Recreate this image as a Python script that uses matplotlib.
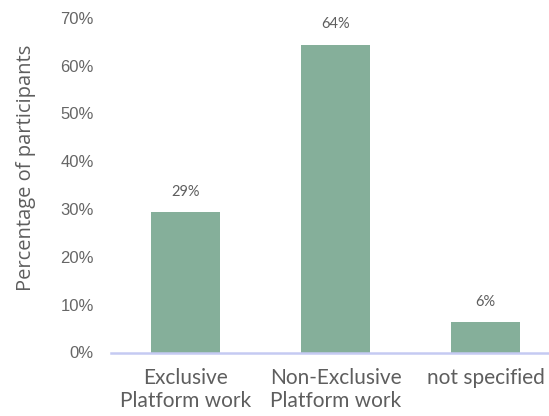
import matplotlib
matplotlib.use("Agg")
import matplotlib.pyplot as plt
from matplotlib.ticker import FuncFormatter

categories = ["Exclusive\nPlatform work", "Non-Exclusive\nPlatform work", "not specified"]
values = [29.3, 64.4, 6.3]
labels = ["29%", "64%", "6%"]
yticks = [0, 10, 20, 30, 40, 50, 60, 70]

bar_color = "#85AF9A"
text_color = "#5E5E5E"
axis_color = "#C5CAF2"

fig = plt.figure(figsize=(5.49, 4.16), dpi=100)
ax = fig.add_axes([110.5 / 549, (416 - 352.5) / 416, 1 - 110.5 / 549, (352.5 - 17.8) / 416])

x = list(range(len(categories)))
bars = ax.bar(x, values, width=0.46, color=bar_color, zorder=2)

for xi, v, lab in zip(x, values, labels):
    ax.annotate(lab, (xi, v), xytext=(0, 15), textcoords="offset points",
                ha="center", va="center", fontsize=10.5, color=text_color, family="Lato")

ax.set_xlim(-0.5, (549 - 110.5) / 150 - 0.5)
ax.set_ylim(0, 70)
ax.set_yticks(yticks)
ax.yaxis.set_major_formatter(FuncFormatter(lambda v, p: f"{int(v)}%"))
ax.set_xticks(x)
ax.set_xticklabels(categories, family="Lato", fontsize=15, color=text_color, linespacing=1.2)

for s in ["top", "right", "left"]:
    ax.spines[s].set_visible(False)
ax.spines["bottom"].set_color(axis_color)
ax.spines["bottom"].set_linewidth(1.8)
ax.tick_params(axis="both", length=0)
ax.tick_params(axis="y", pad=12, labelsize=12, labelcolor="#666666")
ax.tick_params(axis="x", pad=11)
for t in ax.get_yticklabels():
    t.set_family("Liberation Sans")

ax.set_ylabel("Percentage of participants", family="Open Sans", fontsize=14.5, color=text_color)
ax.yaxis.set_label_coords((36 - 110.5) / 438.5, (352.5 - 168) / 334.7)

fig.savefig("out.png", dpi=100)
